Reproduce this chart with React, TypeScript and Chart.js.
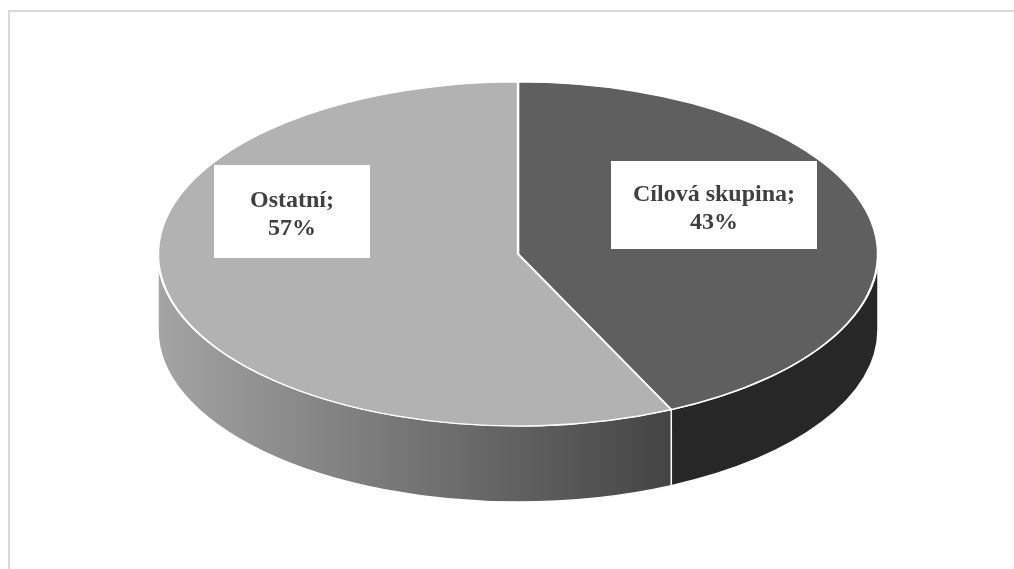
import React, { useEffect, useRef } from "react";
import { Chart, registerables } from "chart.js";

Chart.register(...registerables);

// ---- data ----
const categories = ["Cílová skupina", "Ostatní"];
const shares = [43, 57];

// ---- styles ----
const topColors = ["#5f5f5f", "#b2b2b2"];
const sideColors = [
  ["#272727", "#272727"],
  ["#a4a4a4", "#444444"],
];
const RX = 360; // ellipse half-width of the top face
const RY = 172; // ellipse half-height of the top face
const DEPTH = 76; // thickness of the pie
const labelBoxes = [
  { dx: 196, dy: -49, w: 206, h: 88 },
  { dx: -226, dy: -42.5, w: 156, h: 93 },
];

let transformed = false;

const pie3d = {
  id: "pie3d",
  beforeDatasetsDraw(chart: any) {
    const ctx: CanvasRenderingContext2D = chart.ctx;
    const arcs = chart.getDatasetMeta(0).data as any[];
    transformed = false;
    if (!arcs.length) return;
    const { x: cx, y: cy, outerRadius: R } = arcs[0].getProps(["x", "y", "outerRadius"], true);
    arcs.forEach((arc, i) => {
      const { startAngle: s, endAngle: e } = arc.getProps(["startAngle", "endAngle"], true);
      for (const k of [-2 * Math.PI, 0, 2 * Math.PI]) {
        const lo = Math.max(s, k);
        const hi = Math.min(e, k + Math.PI);
        if (hi <= lo) continue;
        ctx.save();
        ctx.beginPath();
        ctx.ellipse(cx, cy, RX, RY, 0, lo, hi, false);
        ctx.ellipse(cx, cy + DEPTH, RX, RY, 0, hi, lo, true);
        ctx.closePath();
        const xl = cx + RX * Math.cos(hi);
        const xr = cx + RX * Math.cos(lo);
        const g = ctx.createLinearGradient(xl, 0, xr, 0);
        g.addColorStop(0, sideColors[i][0]);
        g.addColorStop(1, sideColors[i][1]);
        ctx.fillStyle = g;
        ctx.fill();
        ctx.strokeStyle = "#ffffff";
        ctx.lineWidth = 1.5;
        ctx.stroke();
        ctx.restore();
      }
    });
    ctx.save();
    ctx.translate(cx, cy);
    ctx.scale(RX / R, RY / R);
    ctx.translate(-cx, -cy);
    transformed = true;
  },
  afterDatasetsDraw(chart: any) {
    if (transformed) chart.ctx.restore();
    transformed = false;
  },
  afterDraw(chart: any) {
    const ctx: CanvasRenderingContext2D = chart.ctx;
    const arcs = chart.getDatasetMeta(0).data as any[];
    if (!arcs.length) return;
    const { x: cx, y: cy } = arcs[0].getProps(["x", "y"], true);
    ctx.save();
    arcs.forEach((_arc, i) => {
      const b = labelBoxes[i];
      const bx = cx + b.dx;
      const by = cy + b.dy;
      ctx.fillStyle = "#ffffff";
      ctx.fillRect(bx - b.w / 2, by - b.h / 2, b.w, b.h);
      ctx.fillStyle = "#404040";
      ctx.font = "bold 24px 'Liberation Serif', 'Times New Roman', serif";
      ctx.textAlign = "center";
      ctx.textBaseline = "alphabetic";
      ctx.fillText(categories[i] + ";", bx, by - 4.5);
      ctx.fillText(shares[i] + "%", bx, by + 23.5);
    });
    ctx.restore();
  },
};

export default function App() {
  const ref = useRef<HTMLCanvasElement | null>(null);
  useEffect(() => {
    if (!ref.current) return;
    const chart = new Chart(ref.current, {
      type: "pie",
      data: {
        labels: categories,
        datasets: [
          {
            data: shares,
            backgroundColor: topColors,
            borderColor: "#ffffff",
            borderWidth: 1.6,
          },
        ],
      },
      options: {
        animation: false,
        responsive: true,
        maintainAspectRatio: false,
        events: [],
        layout: { padding: { left: 12, right: 0, top: 0, bottom: 73 } },
        plugins: {
          legend: { display: false },
          tooltip: { enabled: false },
        },
      },
      plugins: [pie3d],
    } as any);
    return () => chart.destroy();
  }, []);
  return (
    <div
      style={{
        position: "absolute",
        left: 8,
        top: 10,
        width: 1006,
        height: 559,
        boxSizing: "border-box",
        borderTop: "2px solid #d9d9d9",
        borderLeft: "2px solid #d9d9d9",
        background: "#ffffff",
      }}
    >
      <div style={{ position: "relative", width: 1004, height: 557 }}>
        <canvas ref={ref} />
      </div>
    </div>
  );
}
